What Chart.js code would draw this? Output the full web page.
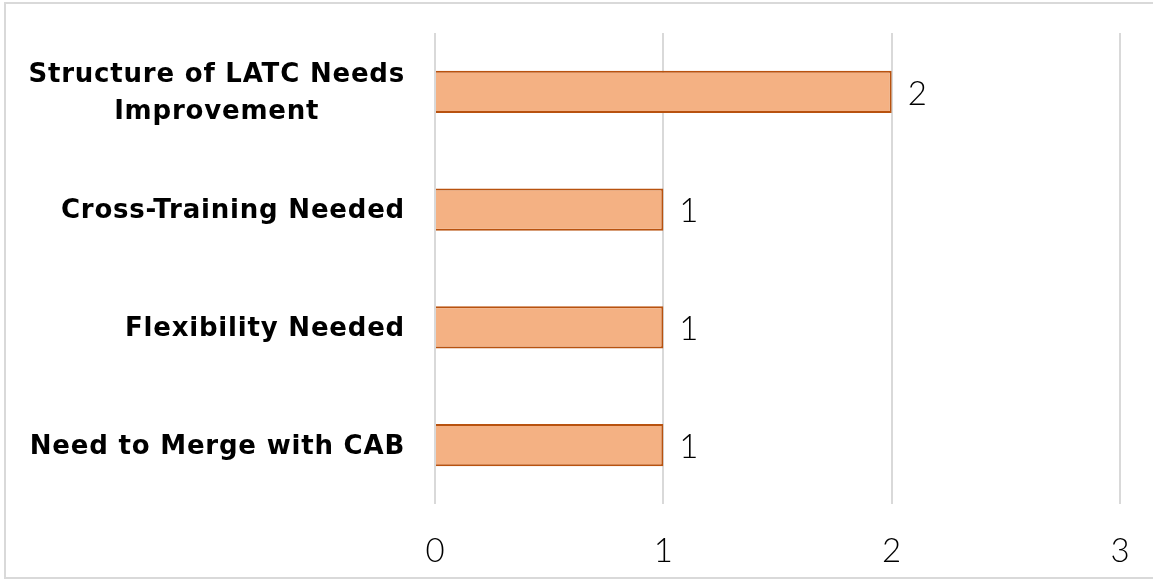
<!DOCTYPE html>
<html>
<head>
<meta charset="utf-8">
<script src="https://cdn.jsdelivr.net/npm/chart.js@4"></script>
<style>
  html, body { margin: 0; padding: 0; background: #fff; }
  #wrap { width: 1153px; height: 580px; position: relative; }
</style>
</head>
<body>
<div id="wrap"><canvas id="chart" width="1153" height="580"></canvas></div>
<script>
// Chart data
const categories = [
    ['Structure of LATC Needs', 'Improvement'],
    ['Cross-Training Needed'],
    ['Flexibility Needed'],
    ['Need to Merge with CAB']
];
const counts = [2, 1, 1, 1];
const xTicks = [0, 1, 2, 3];

const labelFont = 'bold 26px "DejaVu Sans"';
const numberFont = '300 33px Lato';

// Outer frame around the whole chart
const framePlugin = {
    id: 'frame',
    beforeDraw(chart) {
        const ctx = chart.ctx;
        ctx.save();
        ctx.strokeStyle = '#d9d9d9';
        ctx.lineWidth = 2;
        ctx.strokeRect(5, 3, 1160, 575);
        ctx.restore();
    }
};

// Category labels (right aligned, multi-line centred) and value labels
const labelPlugin = {
    id: 'labels',
    afterDraw(chart) {
        const ctx = chart.ctx;
        const yScale = chart.scales.y;
        const meta = chart.getDatasetMeta(0);
        ctx.save();
        ctx.fillStyle = '#000';
        ctx.textBaseline = 'middle';
        ctx.font = labelFont;
        ctx.letterSpacing = '0.8px';
        const right = chart.chartArea.left - 30;
        categories.forEach((lines, i) => {
            const cy = yScale.getPixelForValue(i);
            const lh = 37;
            const widths = lines.map(l => ctx.measureText(l).width);
            const widest = Math.max(...widths);
            lines.forEach((line, j) => {
                const y = cy + (j - (lines.length - 1) / 2) * lh + 2;
                const x = right - widest / 2 - widths[j] / 2;
                ctx.textAlign = 'left';
                ctx.fillText(line, x, y);
            });
        });
        ctx.letterSpacing = '0px';
        ctx.font = numberFont;
        ctx.textAlign = 'left';
        meta.data.forEach((bar, i) => {
            ctx.fillText(String(counts[i]), bar.x + 16, bar.y + 2);
        });
        ctx.restore();
    }
};

new Chart(document.getElementById('chart'), {
    type: 'bar',
    data: {
        labels: categories,
        datasets: [{
            data: counts,
            backgroundColor: '#F4B183',
            borderColor: '#B8520F',
            borderWidth: 2,
            barPercentage: 0.36,
            categoryPercentage: 1
        }]
    },
    options: {
        indexAxis: 'y',
        responsive: false,
        animation: false,
        layout: { padding: { left: 0, right: 33, top: 33, bottom: 0 } },
        plugins: {
            legend: { display: false },
            tooltip: { enabled: false }
        },
        scales: {
            x: {
                min: 0,
                max: 3,
                afterBuildTicks(scale) {
                    scale.ticks = xTicks.map(v => ({ value: v }));
                },
                afterFit(scale) {
                    scale.height = 76;
                    scale.paddingLeft = 0;
                    scale.paddingRight = 0;
                },
                grid: { color: '#d9d9d9', lineWidth: 2, drawTicks: false },
                border: { display: false },
                ticks: {
                    padding: 28,
                    color: '#000',
                    font: { family: 'Lato', size: 33, weight: '300' }
                }
            },
            y: {
                afterFit(scale) { scale.width = 435; },
                grid: { display: false },
                border: { display: false },
                ticks: { display: false }
            }
        }
    },
    plugins: [framePlugin, labelPlugin]
});
</script>
</body>
</html>
